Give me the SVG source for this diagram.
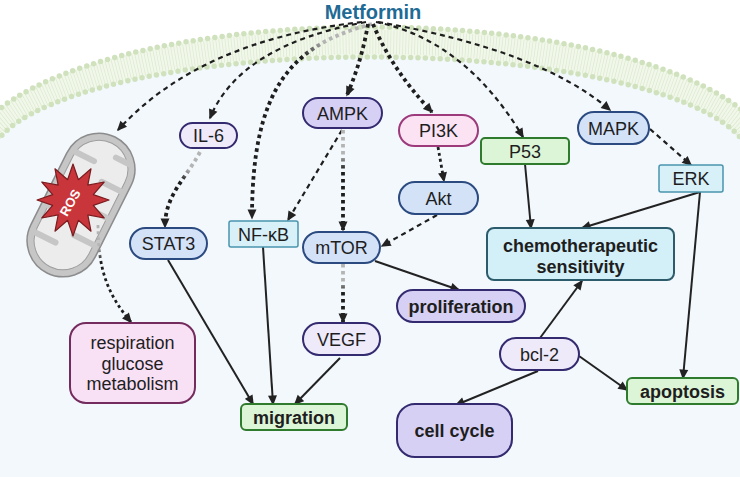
<svg xmlns="http://www.w3.org/2000/svg" width="740" height="477" viewBox="0 0 740 477">
<style>
text{font-family:"Liberation Sans",Arial,sans-serif;font-size:18px;fill:#1e1e1e;text-anchor:middle}
.b{font-weight:bold}
.t{font-weight:bold;font-size:20px;fill:#1f6b95}
.ros{font-weight:bold;font-size:13px;fill:#ffffff}
.pP{fill:#d6d0f4;stroke:#332a70;stroke-width:2}
.pL{fill:#eeeafa;stroke:#332a70;stroke-width:2}
.pB{fill:#d4e2f8;stroke:#2b4a80;stroke-width:2}
.pK{fill:#fbe3f3;stroke:#9c3a7c;stroke-width:2}
.pC{fill:#d8f0f8;stroke:#4a94ad;stroke-width:1.5}
.pG{fill:#ddf5d7;stroke:#2e7b2e;stroke-width:2}
.pCh{fill:#d3eff7;stroke:#2c5c6c;stroke-width:2}
.pR{fill:#f8e0f5;stroke:#742b5d;stroke-width:2}
.s{fill:none;stroke:#222;stroke-width:2;marker-end:url(#ah)}
.d{fill:none;stroke:#1e1e1e;stroke-width:2.2;stroke-dasharray:5 4;marker-end:url(#ah)}
.k{fill:none;stroke:#1e1e1e;stroke-width:3.8;stroke-dasharray:3.6 3.4;marker-end:url(#ah)}
.m{fill:none;stroke:#1e1e1e;stroke-width:2.8;stroke-dasharray:3 3;marker-end:url(#ah)}
</style>
<defs>
<marker id="ah" viewBox="0 0 10 10" refX="8.5" refY="5" markerWidth="11" markerHeight="10" markerUnits="userSpaceOnUse" orient="auto">
<path d="M0,0.5 L10,5 L0,9.5 z" fill="#222"/>
</marker>
<linearGradient id="gNF" gradientUnits="userSpaceOnUse" x1="372" y1="24" x2="252" y2="218"><stop offset="0" stop-color="#b4b4b4"/><stop offset="0.18" stop-color="#b4b4b4"/><stop offset="0.28" stop-color="#1e1e1e"/></linearGradient>
<linearGradient id="gAM" gradientUnits="userSpaceOnUse" x1="343" y1="130" x2="343" y2="230"><stop offset="0" stop-color="#b4b4b4"/><stop offset="0.25" stop-color="#b4b4b4"/><stop offset="0.4" stop-color="#1e1e1e"/></linearGradient>
<linearGradient id="gMV" gradientUnits="userSpaceOnUse" x1="343" y1="264" x2="343" y2="322"><stop offset="0" stop-color="#b4b4b4"/><stop offset="0.3" stop-color="#b4b4b4"/><stop offset="0.5" stop-color="#1e1e1e"/></linearGradient>
<linearGradient id="gIL" gradientUnits="userSpaceOnUse" x1="200" y1="152" x2="165" y2="227"><stop offset="0" stop-color="#b4b4b4"/><stop offset="0.25" stop-color="#b4b4b4"/><stop offset="0.4" stop-color="#1e1e1e"/></linearGradient>
<linearGradient id="gMi" gradientUnits="userSpaceOnUse" x1="98" y1="225" x2="131" y2="322"><stop offset="0" stop-color="#b4b4b4"/><stop offset="0.2" stop-color="#b4b4b4"/><stop offset="0.35" stop-color="#1e1e1e"/></linearGradient>
</defs>

<!-- background -->
<rect width="740" height="477" fill="#ffffff"/>
<path d="M-10,161 A380,104 0 0 1 750,161 L750,477 L-10,477 Z" fill="#f3f8fc"/>
<!-- membrane -->
<g id="membrane">
<path d="M-32,161 A402,134 0 0 1 772,161 L750,161 A380,104 0 0 0 -10,161 Z" fill="#f1f7ea"/>
<path d="M-21,161 A391,119 0 0 1 761,161" fill="none" stroke="#dce9cd" stroke-width="24" stroke-dasharray="0.7 2.3"/>
<path d="M-32,161 A402,134 0 0 1 772,161" fill="none" stroke="#d0e2bd" stroke-width="5.5" stroke-linecap="round" stroke-dasharray="0 7.3"/>
<path d="M-10,161 A380,104 0 0 1 750,161" fill="none" stroke="#d0e2bd" stroke-width="5.5" stroke-linecap="round" stroke-dasharray="0 7.3"/>
</g>

<text class="t" x="373" y="19">Metformin</text>

<!-- mitochondrion -->
<g id="mitochondrion">
<g transform="translate(81,205) rotate(-63.4)">
<rect x="-76" y="-36" width="152" height="72" rx="36" fill="#c6c6c6" stroke="#8c8c8c" stroke-width="1.5"/>
<rect x="-69" y="-29" width="138" height="58" rx="29" fill="#ececec" stroke="#9e9e9e" stroke-width="1"/>
<g stroke="#c6c6c6" stroke-width="6" stroke-linecap="round" fill="none">
<path d="M-45,-29 V-6"/><path d="M-15,-29 V-8"/><path d="M15,-29 V-6"/><path d="M45,-29 V-8"/>
<path d="M-30,29 V7"/><path d="M0,29 V6"/><path d="M30,29 V8"/><path d="M58,26 V10"/>
</g>
</g>
<polygon points="73,164 78.4,179.7 91,168.8 87.8,185.2 104.2,182 93.3,194.6 109,200 93.3,205.4 104.2,218 87.8,214.8 91,231.2 78.4,220.3 73,236 67.6,220.3 55,231.2 58.2,214.8 41.8,218 52.7,205.4 37,200 52.7,194.6 41.8,182 58.2,185.2 55,168.8 67.6,179.7" fill="#c8363c" stroke="#7a1c1f" stroke-width="1.2" stroke-linejoin="round"/>
<text class="ros" transform="translate(74,205) rotate(-60)" x="0" y="0">ROS</text>
</g>

<!-- connectors -->
<g id="connectors">
<path class="d" d="M362,22 Q200,40 118,130"/>
<path class="d" d="M366,22 Q240,45 210,118"/>
<path class="k" d="M372,24 C290,45 252,90 252,218" style="stroke:url(#gNF)"/>
<path class="k" d="M368,24 Q362,60 347,95"/>
<path class="k" d="M373,24 Q392,70 432,112"/>
<path class="d" d="M376,22 Q465,40 523,137"/>
<path class="d" d="M378,22 Q540,50 610,110"/>
<path class="k" d="M200,152 C185,180 165,195 165,227" style="stroke:url(#gIL)"/>
<path class="d" d="M342,130 L288,220"/>
<path class="k" d="M343,130 L343,230" style="stroke:url(#gAM)"/>
<path class="m" d="M438,147 L444,181"/>
<path class="d" d="M437,215 L382,246"/>
<path class="k" d="M343,264 L343,322" style="stroke:url(#gMV)"/>
<path class="m" d="M98,225 C98,270 108,295 131,322" style="stroke:url(#gMi)"/>
<path class="d" d="M650,129 L691,165"/>
<path class="s" d="M375,261 L459,290"/>
<path class="s" d="M168,260 L253,404"/>
<path class="s" d="M263,247 L273,404"/>
<path class="s" d="M340,358 L295,404"/>
<path class="s" d="M525,164 L531,228"/>
<path class="s" d="M700,192 L582,228"/>
<path class="s" d="M700,192 L683,378"/>
<path class="s" d="M540,338 L582,281"/>
<path class="s" d="M579,356 L627,390"/>
<path class="s" d="M538,371 L456,405"/>
</g>

<!-- nodes -->
<g id="il6"><rect class="pL" x="180" y="123" width="57" height="25" rx="12.5"/><text x="208.5" y="142">IL-6</text></g>
<g id="ampk"><rect class="pP" x="303" y="98" width="79" height="30" rx="15"/><text x="342.5" y="119.5">AMPK</text></g>
<g id="pi3k"><rect class="pK" x="399" y="115" width="79" height="31" rx="15.5"/><text x="438.5" y="137">PI3K</text></g>
<g id="akt"><rect class="pB" x="399" y="182" width="79" height="32" rx="16"/><text x="438.5" y="204.5">Akt</text></g>
<g id="nfkb"><rect class="pC" x="229" y="221" width="69" height="26" rx="2"/><text x="263.5" y="240.5">NF-κB</text></g>
<g id="mtor"><rect class="pB" x="303" y="232" width="77" height="31" rx="15.5"/><text x="341.5" y="254">mTOR</text></g>
<g id="stat3"><rect class="pB" x="130" y="228" width="77" height="31" rx="15.5"/><text x="168.5" y="250">STAT3</text></g>
<g id="vegf"><rect class="pL" x="303" y="323" width="77" height="32" rx="16"/><text x="341.5" y="345.5">VEGF</text></g>
<g id="p53"><rect class="pG" x="481" y="138" width="88" height="26" rx="4"/><text x="525" y="157.5">P53</text></g>
<g id="mapk"><rect class="pB" x="578" y="112" width="71" height="32" rx="16"/><text x="613.5" y="134.5">MAPK</text></g>
<g id="erk"><rect class="pC" x="659" y="165" width="64" height="27" rx="2"/><text x="691" y="185">ERK</text></g>
<g id="chemo"><rect class="pCh" x="487" y="228" width="187" height="52" rx="7"/><text class="b" x="580.5" y="251.5">chemotherapeutic</text><text class="b" x="580.5" y="272.5">sensitivity</text></g>
<g id="proliferation"><rect class="pP" x="397" y="290" width="128" height="32" rx="16"/><text class="b" x="461" y="312.5">proliferation</text></g>
<g id="bcl2"><rect class="pL" x="500" y="338" width="79" height="32" rx="16"/><text x="539.5" y="360.5">bcl-2</text></g>
<g id="apoptosis"><rect class="pG" x="627" y="378" width="111" height="26" rx="5"/><text class="b" x="682.5" y="397.5">apoptosis</text></g>
<g id="cellcycle"><rect class="pP" x="397" y="404" width="115" height="53" rx="18"/><text class="b" x="454.5" y="437">cell cycle</text></g>
<g id="migration"><rect class="pG" x="241" y="404" width="106" height="26" rx="5"/><text class="b" x="294" y="423.5">migration</text></g>
<g id="respiration"><rect class="pR" x="70" y="323" width="125" height="80" rx="16"/><text x="132.5" y="349">respiration</text><text x="132.5" y="370">glucose</text><text x="132.5" y="390">metabolism</text></g>
</svg>
